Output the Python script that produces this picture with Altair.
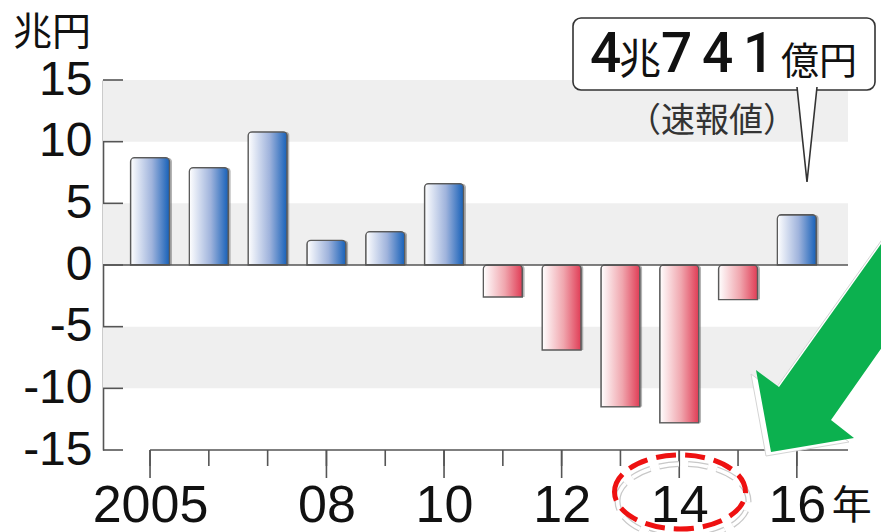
import altair as alt
import pandas as pd

# Japan's annual trade balance, trillion yen
years = [2005, 2006, 2007, 2008, 2009, 2010, 2011, 2012, 2013, 2014, 2015, 2016]
balance = [8.7, 7.9, 10.8, 2.0, 2.7, 6.6, -2.6, -6.9, -11.5, -12.8, -2.8, 4.0741]

y_ticks = [-15, -10, -5, 0, 5, 10, 15]
label_years = [2005, 2008, 2010, 2012, 2014, 2016]
band_lo = [10, 0, -10]
band_hi = [15, 5, -5]

W, H = 745, 370
X_DOMAIN = [2004.2, 2016.87]
Y_DOMAIN = [-15, 15]
NUM_FONT = "Liberation Sans"
JP_FONT = "Noto Sans CJK JP"
AXIS_GRAY = "#555555"
INK = "#111111"

df = pd.DataFrame({"year": years, "value": balance})
bands = pd.DataFrame({"lo": band_lo, "hi": band_hi})
yt = pd.DataFrame({"v": y_ticks})
all_ticks = pd.DataFrame({"year": years})
long_ticks = pd.DataFrame({"year": label_years})
one = pd.DataFrame({"k": [0]})
axis_start = pd.DataFrame({"year": [years[0]]})
axis_end = pd.DataFrame({"year": [years[-1]]})
zero = pd.DataFrame({"v": [0]})

xs = alt.Scale(domain=X_DOMAIN, nice=False, zero=False, padding=0)
ys = alt.Scale(domain=Y_DOMAIN, nice=False, padding=0)

x_axis = alt.Axis(
    values=label_years,
    labelExpr="datum.value == 2005 ? '2005' : slice(toString(datum.value), 2)",
    ticks=False, tickSize=0, domain=False, grid=False, title=None,
    labelFontSize=52, labelFont=NUM_FONT, labelColor=INK,
    labelPadding=30, labelBaseline="top",
)
y_axis = alt.Axis(
    values=y_ticks, labelExpr="toString(datum.value)",
    ticks=False, tickSize=0, grid=False, title=None,
    domain=True, domainColor=AXIS_GRAY, domainWidth=1.6,
    labelFontSize=48, labelFont=NUM_FONT, labelColor=INK,
    labelPadding=11,
)


def X(field="year"):
    return alt.X(f"{field}:Q", scale=xs, axis=x_axis)


def Y(field="value"):
    return alt.Y(f"{field}:Q", scale=ys, axis=y_axis)


# alternating background bands
band_layer = alt.Chart(bands).mark_rect(color="#efefef").encode(
    x=alt.value(0), x2=alt.value(W), y=Y("lo"), y2="hi"
)

bar_kw = dict(size=39, cornerRadiusEnd=4)

shadow = alt.Chart(df).mark_bar(color="#6a6a6a", opacity=0.5, xOffset=2.5, **bar_kw).encode(
    x=X(), y=Y()
)


def grad(c0, c1, c2):
    return alt.LinearGradient(
        gradient="linear", x1=0, x2=1, y1=0, y2=0,
        stops=[alt.GradientStop(offset=0, color=c0),
               alt.GradientStop(offset=0.55, color=c1),
               alt.GradientStop(offset=1, color=c2)],
    )


pos_bars = alt.Chart(df).transform_filter("datum.value >= 0").mark_bar(
    fill=grad("#ffffff", "#9fb3dc", "#1660b8"), stroke="#5a5a5a", strokeWidth=1.3, **bar_kw
).encode(x=X(), y=Y())

neg_bars = alt.Chart(df).transform_filter("datum.value < 0").mark_bar(
    fill=grad("#ffffff", "#f0a6ae", "#e03c55"), stroke="#5a5a5a", strokeWidth=1.3, **bar_kw
).encode(x=X(), y=Y())

zero_line = alt.Chart(zero).mark_rule(color=AXIS_GRAY, strokeWidth=1.6).encode(
    y=Y("v"), x=alt.value(0), x2=alt.value(W)
)

# inward ticks on the value axis
y_tick_marks = alt.Chart(yt).mark_rule(color=AXIS_GRAY, strokeWidth=1.6).encode(
    y=Y("v"), x=alt.value(0), x2=alt.value(20)
)

# year axis: baseline from the first year, short and long ticks
x_line = alt.Chart(axis_start).mark_rule(color=AXIS_GRAY, strokeWidth=1.6).encode(
    x=X(), x2=alt.value(W), y=alt.value(H)
)
short_ticks = alt.Chart(all_ticks).mark_rule(color=AXIS_GRAY, strokeWidth=1.6).encode(
    x=X(), y=alt.value(H), y2=alt.value(H + 16)
)
long_tick_marks = alt.Chart(long_ticks).mark_rule(color=AXIS_GRAY, strokeWidth=1.6).encode(
    x=X(), y=alt.value(H), y2=alt.value(H + 28)
)

nen = alt.Chart(axis_end).mark_text(
    text="年", font=JP_FONT, fontSize=40, align="left", baseline="alphabetic", dx=35, color=INK
).encode(x=X(), y=alt.value(H + 69))

unit = alt.Chart(one).mark_text(
    text="兆円", font=JP_FONT, fontSize=39, align="right", baseline="alphabetic", color=INK
).encode(x=alt.value(-12), y=alt.value(-35))

# callout for the latest year
last = balance[-1]
cho = int(last)
oku = round((last - cho) * 10000)

box = alt.Chart(one).mark_rect(
    fill="white", stroke="#333333", strokeWidth=1.6, cornerRadius=8
).encode(x=alt.value(470), x2=alt.value(772), y=alt.value(-62), y2=alt.value(10))

pointer = alt.Chart(one).mark_point(
    shape="M-0.2,-0.96 L0,0.94 L0.2,-0.96", fill="white", filled=False,
    stroke="#333333", strokeWidth=1.6, opacity=1, size=10000
).encode(x=alt.value(704), y=alt.value(55))

big = dict(font="Roboto", fontSize=55, fontWeight=500, align="left", baseline="alphabetic", color=INK)
small = dict(font=JP_FONT, align="left", baseline="alphabetic", color=INK)

callout_layers = [
    alt.Chart(one).mark_text(text=str(cho), **big).encode(x=alt.value(487), y=alt.value(-8)),
    alt.Chart(one).mark_text(text="兆", fontSize=42, **small).encode(x=alt.value(516), y=alt.value(-6)),
]
# the yen digits are set with wide tracking
for i, ch in enumerate(str(oku)):
    callout_layers.append(
        alt.Chart(one).mark_text(text=ch, **big).encode(x=alt.value(558 + i * 41), y=alt.value(-8))
    )
callout_layers += [
    alt.Chart(one).mark_text(text="億円", fontSize=38, **small).encode(x=alt.value(678), y=alt.value(-6)),
    alt.Chart(one).mark_text(
        text="（速報値）", font=JP_FONT, fontSize=34, align="center", baseline="alphabetic", color="#333333"
    ).encode(x=alt.value(609), y=alt.value(52)),
]

# green arrow pointing at the year axis
ARROW = "M0.81,-1.28 L-0.51,0.57 L-0.74,0.40 L-0.59,1.22 L0.24,1.08 L0.01,0.90 L0.81,-0.24 Z"
arrow_shadow = alt.Chart(one).mark_point(
    shape=ARROW, filled=True, fill="white", stroke="#d4d4d4", strokeWidth=1, opacity=1, size=40000
).encode(x=alt.value(722), y=alt.value(254))
arrow = alt.Chart(one).mark_point(
    shape=ARROW, filled=True, fill="#0cb14f", strokeWidth=0, opacity=1, size=40000
).encode(x=alt.value(727), y=alt.value(250))

# dashed ellipse around the 2014 label
ELLIPSE = ("M-1,0 C-1,-0.312 -0.5523,-0.565 0,-0.565 C0.5523,-0.565 1,-0.312 1,0 "
           "C1,0.312 0.5523,0.565 0,0.565 C-0.5523,0.565 -1,0.312 -1,0 Z")
ell_shadow_a = alt.Chart(one).mark_point(
    shape=ELLIPSE, filled=False, stroke="#c8c8c8", strokeWidth=6, strokeDash=[20, 9],
    opacity=1, size=17161
).encode(x=alt.value(580), y=alt.value(421))
ell_shadow_b = alt.Chart(one).mark_point(
    shape=ELLIPSE, filled=False, stroke="white", strokeWidth=3.5, strokeDash=[20, 9],
    opacity=1, size=17161
).encode(x=alt.value(580), y=alt.value(421))
ellipse = alt.Chart(one).mark_point(
    shape=ELLIPSE, filled=False, stroke="#ee1111", strokeWidth=5, strokeDash=[20, 9],
    opacity=1, size=17161
).encode(x=alt.value(577), y=alt.value(412))

chart = alt.layer(
    band_layer, shadow, pos_bars, neg_bars, zero_line, y_tick_marks,
    x_line, short_ticks, long_tick_marks, nen, unit,
    box, pointer, *callout_layers,
    arrow_shadow, arrow, ell_shadow_a, ell_shadow_b, ellipse,
).properties(
    width=W, height=H,
    autosize=alt.AutoSizeParams(type="none"),
    padding={"left": 103, "top": 80, "right": 33, "bottom": 82},
    background="white",
).configure_view(stroke=None)

chart.save("out.html", embed_options={"renderer": "svg", "actions": False})
